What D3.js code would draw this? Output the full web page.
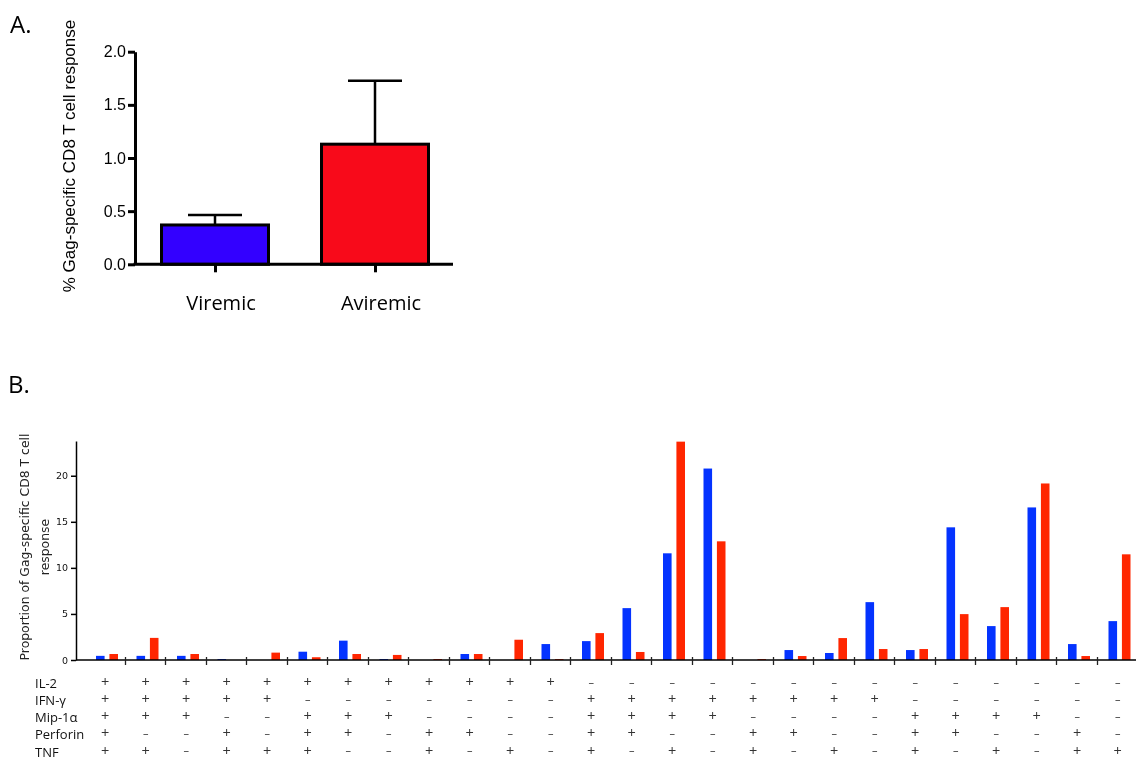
<!DOCTYPE html>
<meta charset="utf-8">
<style>
body { margin: 0; background: #fff; }
svg { display: block; will-change: transform; }
.axA path, .axA line { stroke: #000; stroke-width: 3px; }
.axA text { font-family: "Liberation Sans", Arial, sans-serif; font-size: 16px; fill: #000; }
.axB path, .axB line { stroke: #000; stroke-width: 1.5px; }
.axB text { font-family: "DejaVu Sans", sans-serif; font-size: 9.5px; fill: #111; }
.cal { font-family: "Open Sans", sans-serif; }
</style>
<svg class="chart" width="1136" height="759"></svg>
<script src="https://d3js.org/d3.v7.min.js"></script>
<script>

// panel A
var groupsA = ["Viremic", "Aviremic"],
    meansA = [0.37, 1.13],
    errA = [0.093, 0.597],
    colorsA = ["#3300ff", "#f80a1a"];

// panel B
var series = ["Viremic", "Aviremic"];
var viremic  = [0.45, 0.45, 0.45, 0.1, 0, 0.9, 2.1, 0.1, 0, 0.65, 0, 1.73, 2.05, 5.63, 11.58, 20.78, 0, 1.08, 0.76, 6.28, 1.08, 14.4, 3.68, 16.56, 1.73, 4.22];
var aviremic = [0.65, 2.4, 0.65, 0, 0.8, 0.3, 0.65, 0.55, 0.1, 0.65, 2.2, 0.1, 2.92, 0.87, 23.7, 12.88, 0.1, 0.43, 2.38, 1.19, 1.19, 4.98, 5.74, 19.16, 0.43, 11.47];
var colorsB = ["#0433ff", "#ff2600"];

var functions = ["IL-2", "IFN-\u03b3", "Mip-1\u03b1", "Perforin", "TNF"];
var il2  = "++++++++++++--------------";
var ifng = "+++++-------++++++++------";
var mip  = "+++--+++----++++----++++--";
var perf = "+--+-++-++--++--++--++--+-";
var tnf  = "++-+++--+-+-+-+-+-+-+-+-++";
var combos = [il2, ifng, mip, perf, tnf];
var categories = d3.range(viremic.length).map(function(i) { return "c" + i; });

var svg = d3.select(".chart");

// ---------- A ----------
svg.append("text").attr("class", "cal")
    .attr("x", 10).attr("y", 33)
    .style("font-size", "24px")
    .text("A.");

var yA = d3.scaleLinear().domain([0, 2]).range([264.3, 51.7]);
var xA = d3.scalePoint().domain(groupsA).range([135, 455]).padding(0.5);
var bwA = 107;

var gA = svg.append("g");

gA.selectAll(".barA")
  .data(groupsA)
  .enter().append("rect")
    .attr("class", "barA")
    .attr("x", function(d) { return xA(d) - bwA / 2; })
    .attr("y", function(d, i) { return yA(meansA[i]); })
    .attr("width", bwA)
    .attr("height", function(d, i) { return yA(0) - yA(meansA[i]); })
    .attr("fill", function(d, i) { return colorsA[i]; })
    .attr("stroke", "#000")
    .attr("stroke-width", 3);

var err = gA.selectAll(".err")
  .data(groupsA)
  .enter().append("g")
    .attr("class", "err")
    .attr("stroke", "#000")
    .attr("stroke-width", 2.5);
err.append("line")
    .attr("x1", function(d) { return xA(d); })
    .attr("x2", function(d) { return xA(d); })
    .attr("y1", function(d, i) { return yA(meansA[i]); })
    .attr("y2", function(d, i) { return yA(meansA[i] + errA[i]); });
err.append("line")
    .attr("x1", function(d) { return xA(d) - 27; })
    .attr("x2", function(d) { return xA(d) + 27; })
    .attr("y1", function(d, i) { return yA(meansA[i] + errA[i]); })
    .attr("y2", function(d, i) { return yA(meansA[i] + errA[i]); });

gA.append("g")
    .attr("class", "axA")
    .attr("transform", "translate(135,0)")
    .call(d3.axisLeft(yA).tickValues([0, 0.5, 1, 1.5, 2]).tickFormat(d3.format(".1f")).tickSize(7).tickSizeOuter(0).tickPadding(2));

var xAxA = gA.append("g").attr("class", "axA")
    .attr("transform", "translate(0,264.3)")
    .call(d3.axisBottom(xA).tickSize(8).tickSizeOuter(0).tickFormat(""));
xAxA.select(".domain").attr("d", "M133.5,0H453");

gA.selectAll(".lblA")
  .data(groupsA)
  .enter().append("text")
    .attr("class", "cal")
    .attr("x", function(d) { return xA(d) + 6; })
    .attr("y", 310)
    .attr("text-anchor", "middle")
    .style("font-size", "20px")
    .text(function(d) { return d; });

gA.append("text")
    .attr("transform", "translate(75,156) rotate(-90)")
    .attr("text-anchor", "middle")
    .style("font-family", "Liberation Sans, Arial, sans-serif")
    .style("font-size", "17px")
    .text("% Gag-specific CD8 T cell response");

// ---------- B ----------
svg.append("text").attr("class", "cal")
    .attr("x", 8).attr("y", 393)
    .style("font-size", "24px")
    .text("B.");

var yB = d3.scaleLinear().domain([0, 23.77]).range([660, 441]);
var xB = d3.scaleBand().domain(categories).range([84, 1137]);
var xS = d3.scaleBand().domain(series).range([12, 34]).paddingInner(0.36);

var gB = svg.append("g");

var values = [viremic, aviremic];
series.forEach(function(s, si) {
  gB.append("g").selectAll("rect")
    .data(values[si])
    .enter().append("rect")
      .attr("x", function(d, i) { return xB(categories[i]) + xS(s); })
      .attr("y", function(d) { return yB(d); })
      .attr("width", xS.bandwidth())
      .attr("height", function(d) { return yB(0) - yB(d); })
      .attr("fill", colorsB[si]);
});

gB.append("g")
    .attr("class", "axB")
    .attr("transform", "translate(76,0)")
    .call(d3.axisLeft(yB).tickValues([0, 5, 10, 15, 20]).tickSize(5).tickSizeOuter(0).tickPadding(3));

// x axis line with ticks at group boundaries
gB.append("line")
    .attr("x1", 76).attr("x2", 1136)
    .attr("y1", 660).attr("y2", 660)
    .attr("stroke", "#000").attr("stroke-width", 1.5);
gB.selectAll(".bt")
  .data(categories.slice(1))
  .enter().append("line")
    .attr("x1", function(d) { return Math.round(xB(d)) + 0.5; })
    .attr("x2", function(d) { return Math.round(xB(d)) + 0.5; })
    .attr("y1", 657).attr("y2", 665)
    .attr("stroke", "#222").attr("stroke-width", 1.3);

gB.append("text")
    .attr("transform", "translate(0,547) rotate(-90)")
    .attr("text-anchor", "middle")
    .style("font-family", "DejaVu Sans, sans-serif")
    .style("font-size", "12.4px")
    .style("fill", "#222")
    .call(function(t) {
      t.append("tspan").attr("x", 0).attr("y", 29).text("Proportion of Gag-specific CD8 T cell");
      t.append("tspan").attr("x", 0).attr("y", 49).text("response");
    });

// function table
var labelY = d3.scaleLinear().domain([0, 4]).range([688, 756.5]);
var symY = d3.scaleLinear().domain([0, 4]).range([686.6, 755]);
gB.selectAll(".fn")
  .data(functions)
  .enter().append("text")
    .attr("class", "cal")
    .attr("x", 35)
    .attr("y", function(d, i) { return labelY(i); })
    .style("font-size", "13px")
    .style("fill", "#111")
    .text(function(d) { return d; });

combos.forEach(function(row, ri) {
  gB.append("g").selectAll("text")
    .data(row.split(""))
    .enter().append("text")
      .attr("class", "cal")
      .attr("x", function(d, i) { return xB(categories[i]) + xB.bandwidth() / 2 + 1; })
      .attr("y", function(d) { return symY(ri) + (d === "+" ? 0.5 : -0.6); })
      .attr("text-anchor", "middle")
      .style("font-size", function(d) { return d === "+" ? "14.5px" : "11px"; })
      .style("fill", "#333")
      .text(function(d) { return d === "+" ? "+" : "\u2013"; });
});

</script>
